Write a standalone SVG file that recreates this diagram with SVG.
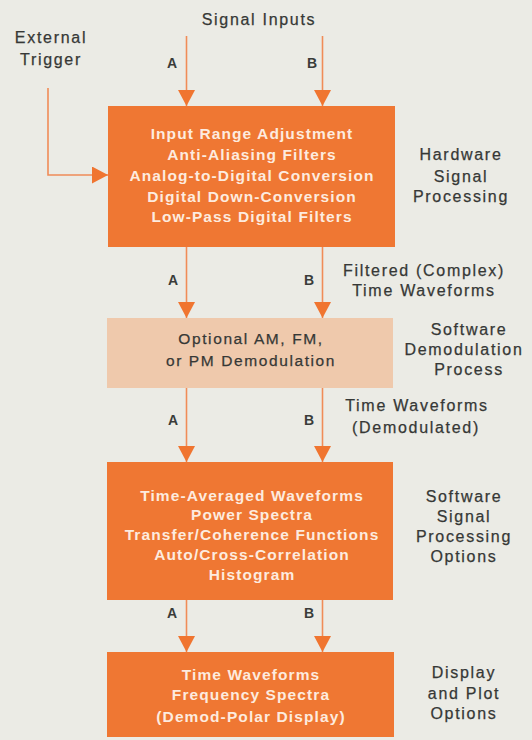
<svg xmlns="http://www.w3.org/2000/svg" width="532" height="740" viewBox="0 0 532 740">
  <style>
    .bg { fill: #ebebe5; }
    .box { fill: #ef7733; }
    .pale { fill: #efc9ac; }
    .wire { stroke: #f08c58; stroke-width: 1.6; fill: none; }
    .head { fill: #f07530; }
    .label { font-family: "Liberation Sans", Arial, sans-serif; font-size: 16px; fill: #363836; text-anchor: middle; letter-spacing: 1.7px; stroke: #363836; stroke-width: 0.25px; }
    .inbox { font-family: "Liberation Sans", Arial, sans-serif; font-size: 15.5px; font-weight: bold; fill: #fdebdf; text-anchor: middle; letter-spacing: 1.1px; }
    .dark { font-family: "Liberation Sans", Arial, sans-serif; font-size: 15.5px; fill: #363836; text-anchor: middle; letter-spacing: 1.6px; stroke: #363836; stroke-width: 0.25px; }
    .ch { font-family: "Liberation Sans", Arial, sans-serif; font-size: 14px; font-weight: bold; fill: #3a3c3a; text-anchor: middle; }
  </style>
  <defs>
    <marker id="arrow" viewBox="0 0 16 17" refX="16" refY="8.5" markerWidth="16" markerHeight="17" markerUnits="userSpaceOnUse" orient="auto">
      <path class="head" d="M0,0 L16,8.5 L0,17 Z"/>
    </marker>
  </defs>

  <rect class="bg" x="0" y="0" width="532" height="740"/>

  <!-- connectors -->
  <g id="connectors">
    <path class="wire" d="M186.5,36 V106" marker-end="url(#arrow)"/>
    <path class="wire" d="M322.5,36 V106" marker-end="url(#arrow)"/>
    <path class="wire" d="M48,88 V175 H108" marker-end="url(#arrow)"/>
    <path class="wire" d="M186.5,247 V318" marker-end="url(#arrow)"/>
    <path class="wire" d="M322.5,247 V318" marker-end="url(#arrow)"/>
    <path class="wire" d="M186.5,388 V462" marker-end="url(#arrow)"/>
    <path class="wire" d="M322.5,388 V462" marker-end="url(#arrow)"/>
    <path class="wire" d="M186.5,600 V652" marker-end="url(#arrow)"/>
    <path class="wire" d="M322.5,600 V652" marker-end="url(#arrow)"/>
    <text class="ch" x="172" y="68">A</text>
    <text class="ch" x="312" y="68">B</text>
    <text class="ch" x="173" y="285">A</text>
    <text class="ch" x="309" y="285">B</text>
    <text class="ch" x="173" y="425">A</text>
    <text class="ch" x="309" y="425">B</text>
    <text class="ch" x="172" y="618">A</text>
    <text class="ch" x="309" y="618">B</text>
  </g>

  <!-- inputs -->
  <g id="signal-inputs">
    <text class="label" x="259" y="25">Signal Inputs</text>
  </g>
  <g id="external-trigger">
    <text class="label" x="51" y="43">External</text>
    <text class="label" x="51" y="65">Trigger</text>
  </g>

  <!-- hardware stage -->
  <g id="hardware">
    <rect class="box" x="108" y="106" width="287" height="141"/>
    <text class="inbox" x="252" y="139">Input Range Adjustment</text>
    <text class="inbox" x="252" y="160">Anti-Aliasing Filters</text>
    <text class="inbox" x="252" y="181">Analog-to-Digital Conversion</text>
    <text class="inbox" x="252" y="202">Digital Down-Conversion</text>
    <text class="inbox" x="252" y="222">Low-Pass Digital Filters</text>
  </g>
  <g id="hardware-caption">
    <text class="label" x="461" y="160">Hardware</text>
    <text class="label" x="461" y="182">Signal</text>
    <text class="label" x="461" y="202">Processing</text>
  </g>
  <g id="filtered-caption">
    <text class="label" x="424" y="276">Filtered (Complex)</text>
    <text class="label" x="424" y="296">Time Waveforms</text>
  </g>

  <!-- demodulation stage -->
  <g id="demodulation">
    <rect class="pale" x="107" y="318" width="286" height="70"/>
    <text class="dark" x="251" y="344">Optional AM, FM,</text>
    <text class="dark" x="251" y="366">or PM Demodulation</text>
  </g>
  <g id="demodulation-caption">
    <text class="label" x="469" y="335">Software</text>
    <text class="label" x="464" y="355">Demodulation</text>
    <text class="label" x="469" y="375">Process</text>
  </g>
  <g id="demodulated-caption">
    <text class="label" x="417" y="411">Time Waveforms</text>
    <text class="label" x="416" y="433">(Demodulated)</text>
  </g>

  <!-- software processing stage -->
  <g id="processing">
    <rect class="box" x="107" y="462" width="286" height="138"/>
    <text class="inbox" x="252" y="501">Time-Averaged Waveforms</text>
    <text class="inbox" x="252" y="520">Power Spectra</text>
    <text class="inbox" x="252" y="540">Transfer/Coherence Functions</text>
    <text class="inbox" x="252" y="560">Auto/Cross-Correlation</text>
    <text class="inbox" x="252" y="580">Histogram</text>
  </g>
  <g id="processing-caption">
    <text class="label" x="464" y="502">Software</text>
    <text class="label" x="464" y="522">Signal</text>
    <text class="label" x="464" y="542">Processing</text>
    <text class="label" x="464" y="562">Options</text>
  </g>

  <!-- display stage -->
  <g id="display">
    <rect class="box" x="107" y="652" width="287" height="85"/>
    <text class="inbox" x="251" y="680">Time Waveforms</text>
    <text class="inbox" x="251" y="700">Frequency Spectra</text>
    <text class="inbox" x="251" y="722">(Demod-Polar Display)</text>
  </g>
  <g id="display-caption">
    <text class="label" x="464" y="678">Display</text>
    <text class="label" x="464" y="699">and Plot</text>
    <text class="label" x="464" y="719">Options</text>
  </g>
</svg>
